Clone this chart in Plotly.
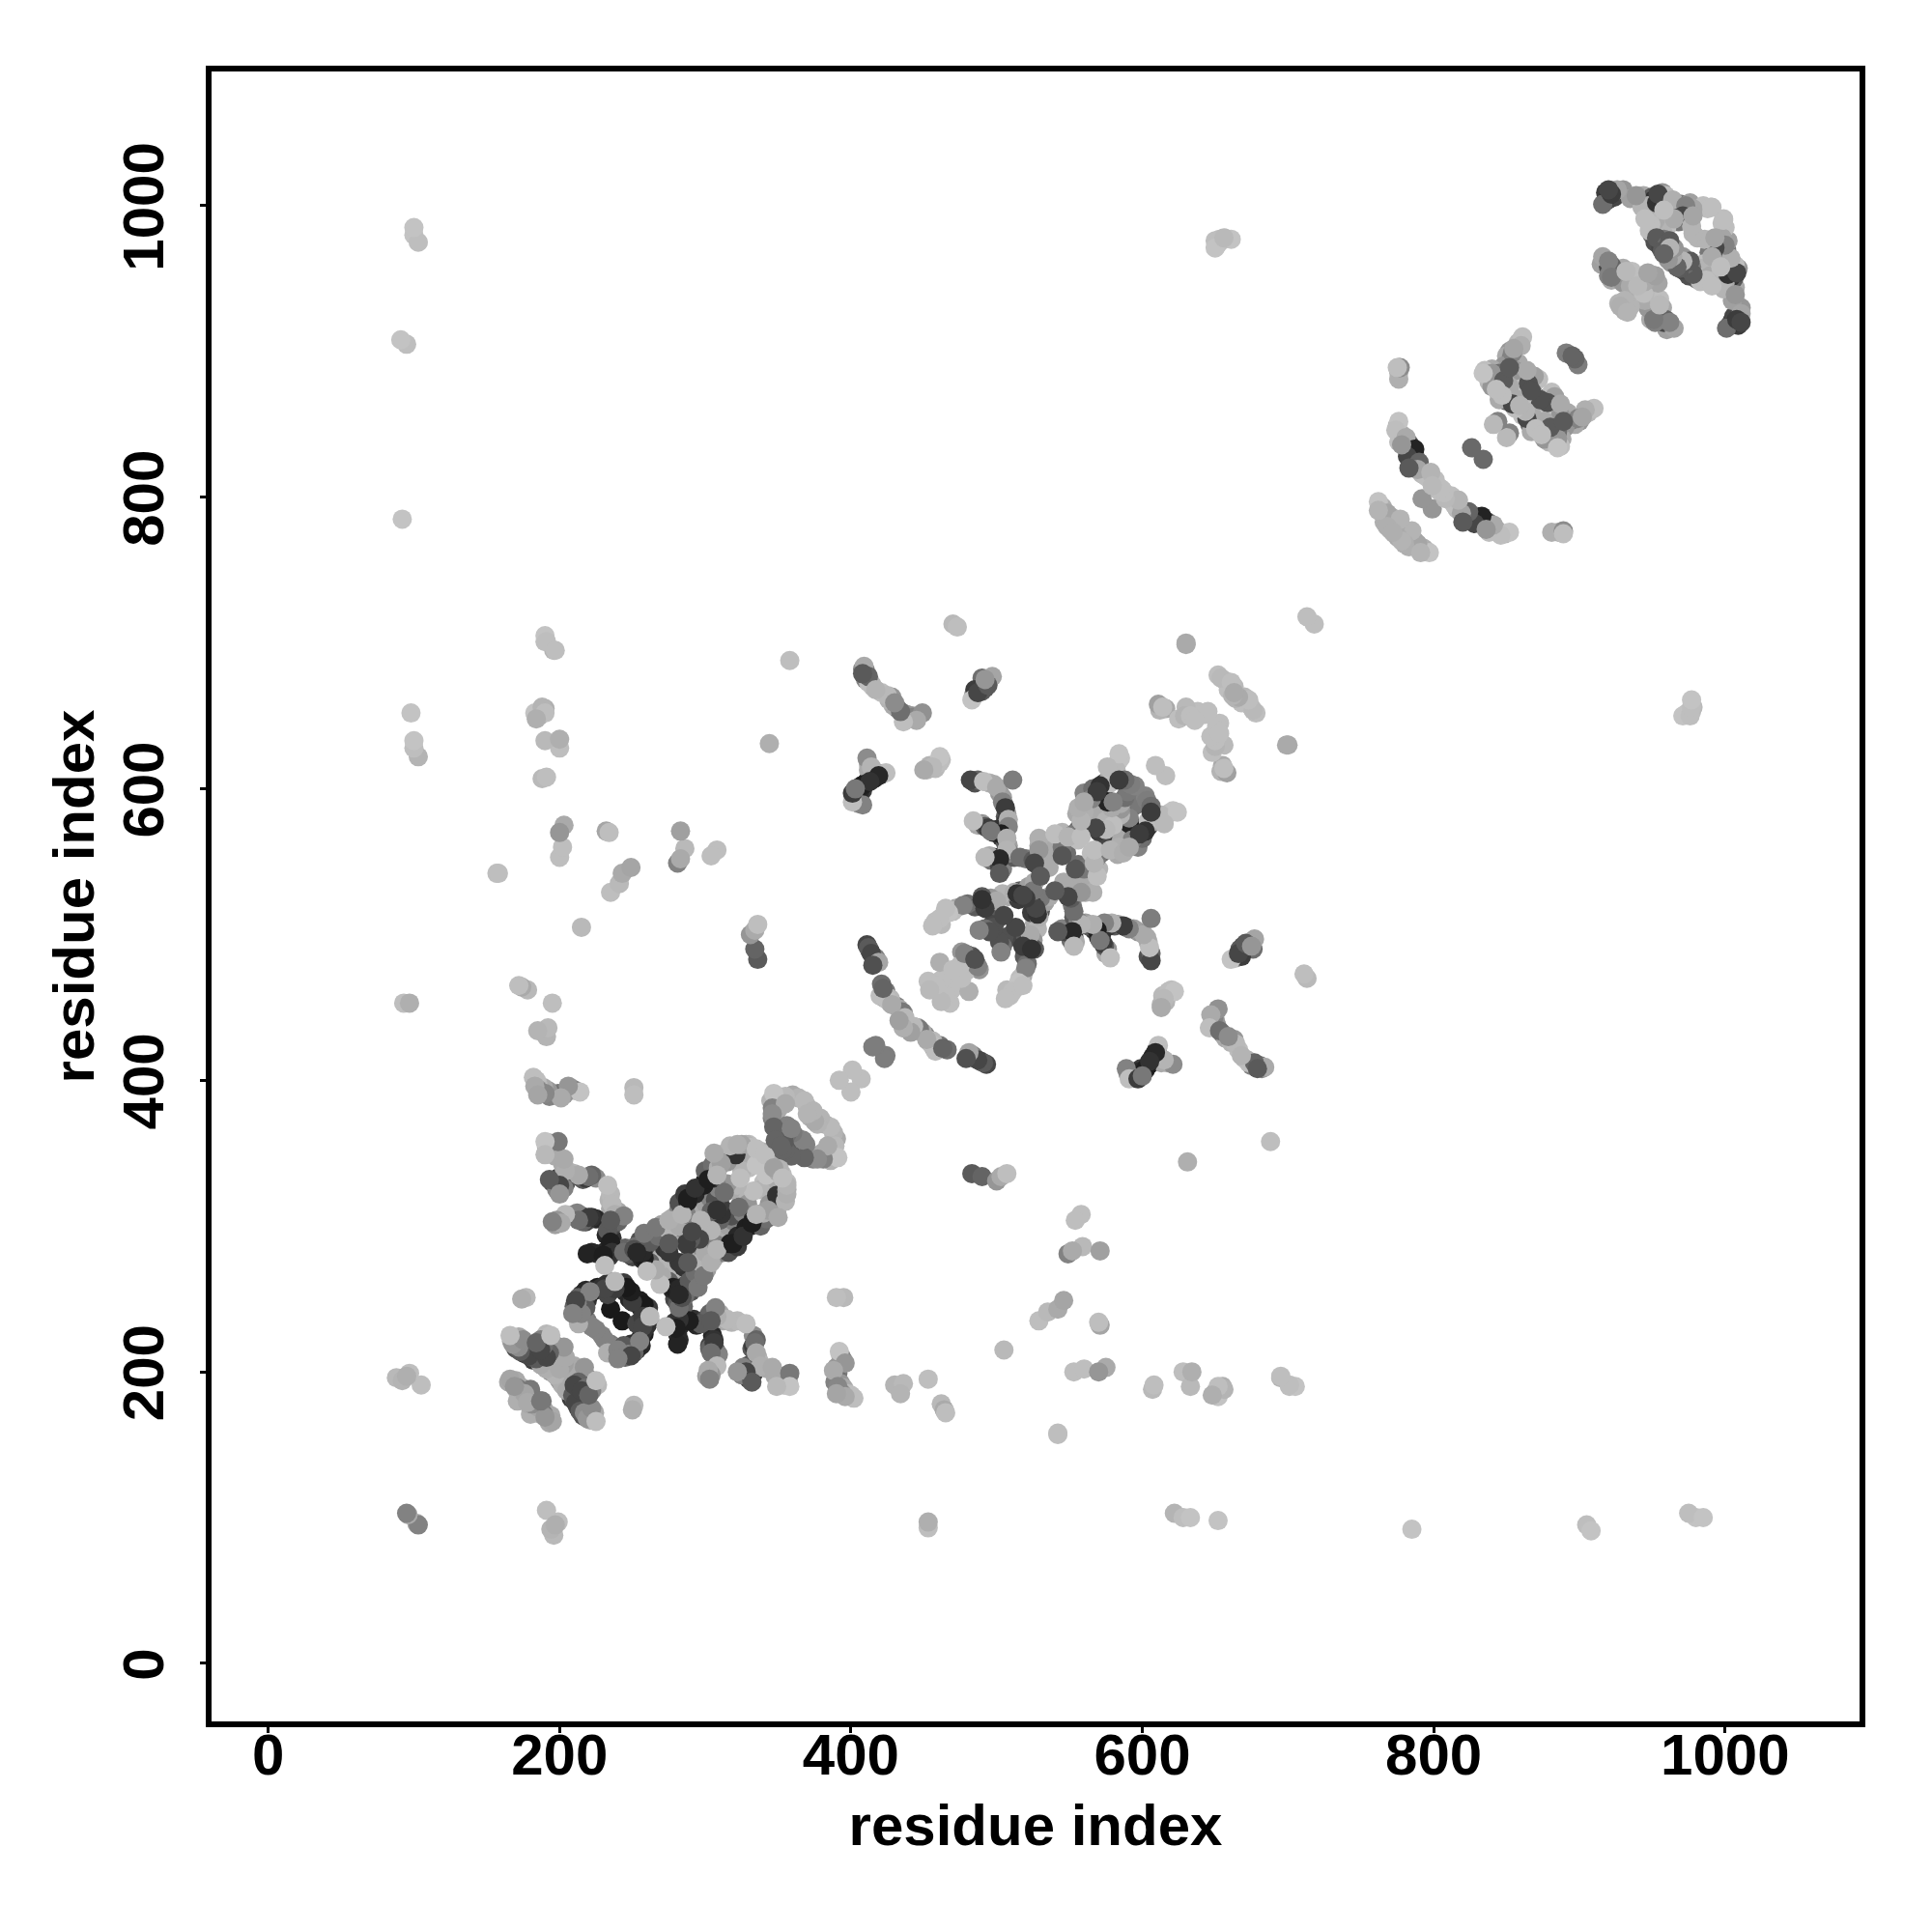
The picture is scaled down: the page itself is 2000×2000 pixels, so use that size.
import plotly.graph_objects as go

tick_values = [0, 200, 400, 600, 800, 1000]
axis_title = "residue index"

# contacts as (residue a, residue b, grey level); the map is symmetric
far_contacts = [
    (980,100,195),(975,103,190),(985,100,195),(905,95,190),(908,91,195),(785,92,195),(652,98,195),
    (622,103,180),(628,100,190),(633,100,195),(453,93,190),(453,97,175),
    (191,105,190),(196,88,185),(194,92,180),(199,97,190),(197,95,175),(102,96,170),(103,95,130),
    (542,157,190),(652,185,190),(655,190,175),(650,186,185),(652,183,195),(656,188,180),
    (695,196,180),(701,190,190),(705,190,195),(607,188,185),(608,191,190),(628,200,190),(633,190,185),(634,200,175),
    (553,200,190),(560,202,190),(575,203,170),(570,200,150),(505,215,185),
    (462,178,185),(464,174,170),(465,172,190),(453,195,190),(430,191,180),(436,192,185),(434,185,180),
    (542,158,190),(558,308,190),(554,304,190),(549,281,130),(559,286,185),(571,283,160),(552,283,170),
    (529,235,190),(535,241,185),(542,243,170),(546,249,165),(571,232,165),(570,234,190),
    (483,336,90),(490,334,100),(500,331,150),(503,334,170),(507,336,190),
    (631,344,175),(688,358,190),(700,630,170),(713,470,185),(711,473,190),
    (977,653,190),(974,652,190),(971,650,195),(978,656,185),(650,976,190),(656,977,190),(661,977,195),
    (718,713,190),(701,191,190),(695,197,190),(652,190,190),(648,184,175),
]

x_arm_contacts = [
    (297,233,90),(322,235,185),(315,236,185),(328,233,190),(308,238,175),(307,244,130),(304,235,90),
    (289,235,30),(282,236,50),(281,219,35),(280,230,30),(282,244,110),(284,251,80),(277,257,40),(273,231,190),
    (306,220,60),(304,213,110),(308,204,185),(304,198,150),(302,201,170),(303,195,130),
    (334,220,110),(335,213,170),(338,204,175),(328,200,70),(332,193,90),(322,200,150),(346,203,170),
    (358,199,120),(358,190,195),(349,190,185),
    (392,214,195),(396,206,150),(388,201,170),(391,190,135),(402,182,190),(396,183,170),(390,185,165),
    (395,251,185),(390,251,190),(251,177,185),(250,174,175),
]

ring_contacts = [
    (261,239,185),(255,249,30),(254,221,40),(251,218,60),(244,218,90),(238,212,190),(231,222,130),
    (243,235,25),(253,233,70),(251,213,100),(247,212,130),(233,213,175),(240,215,130),(258,229,50),
    (261,244,60),(258,246,25),(257,238,60),(257,231,70),(255,221,130),(249,211,70),(240,209,130),(262,238,185),
]

low_block_contacts = [
    (198,197,180),(202,191,175),(205,187,170),(209,184,90),(211,179,70),(214,173,90),(217,172,140),(219,168,150),
    (222,175,140),(225,166,190),(202,200,170),(210,204,170),(217,203,150),(213,193,100),(210,191,70),(218,189,110),
    (222,187,130),(215,187,70),(220,184,100),(225,194,190),
    (195,166,165),(188,180,120),(187,171,180),(180,171,175),(185,176,165),(190,169,150),(179,178,170),(180,187,120),
]

helix_band_contacts = [
    (278,258,30),(282,257,40),(289,262,90),(293,268,110),(297,275,180),(300,282,170),(308,287,130),(317,288,30),
    (322,293,40),(328,299,30),(333,306,50),(340,309,175),(349,310,170),(344,315,150),(349,321,50),(355,317,180),
    (356,325,165),(353,335,190),(349,341,190),(340,347,160),(333,353,190),(333,324,190),(323,313,110),(311,308,50),
    (304,297,180),(296,291,70),(282,275,55),(269,260,190),(288,275,90),(282,253,40),(295,258,120),(299,266,120),
    (304,275,175),(308,284,180),(319,288,30),(326,293,50),(332,302,30),(343,311,160),(356,322,175),(350,306,170),(335,308,180),
    (386,368,185),(389,355,185),(391,347,195),(379,374,180),(381,346,130),(384,355,170),(377,346,140),(368,347,100),
    (359,348,100),(367,359,130),(377,370,180),(355,352,100),(407,401,190),(400,392,190),(424,417,125),
]

central_contacts = [
    (606,482,70),(605,491,190),(601,500,170),(591,504,130),(587,506,60),(579,508,175),(574,508,130),(569,503,30),
    (573,494,60),(578,484,190),(571,496,120),(566,507,175),(558,507,180),(552,502,40),(553,492,185),(542,502,90),
    (553,516,110),(551,525,90),(566,529,175),(558,529,150),(549,526,70),(606,511,125),
    (529,512,175),(523,500,170),(520,477,130),(518,492,60),(524,490,50),(513,505,70),(502,495,80),(503,488,130),
    (515,467,195),(511,461,190),(506,456,190),(518,465,190),(528,514,50),(525,520,60),(527,518,70),(540,530,90),
    (554,545,85),(569,553,120),(573,568,70),(569,540,190),(567,549,180),(567,558,190),(587,579,170),(591,576,35),
    (600,572,30),(604,578,190),(613,582,185),(624,584,195),(593,565,130),(584,560,175),(578,558,180),(587,556,175),
    (591,580,130),(603,592,125),(606,588,110),(602,571,50),(598,569,60),(591,560,170),(615,576,185),(606,584,60),
    (616,609,190),(699,630,170),(658,611,160),(656,614,190),(650,629,180),(650,633,190),(653,645,190),(647,636,190),
    (676,654,185),(673,661,190),(666,663,170),
    (677,497,165),(673,491,100),(668,485,60),(661,483,195),(666,487,70),(671,494,90),(675,492,150),
    (618,461,190),(622,461,195),(613,452,180),(615,456,185),(613,450,170),
    (652,449,145),(647,445,170),(646,436,190),(653,434,110),(664,425,185),(659,430,140),(673,412,190),(684,409,170),
    (677,412,100),(679,408,90),(668,417,180),
    (611,424,190),(621,411,140),(615,414,180),(609,419,40),(603,409,30),(600,405,30),(589,408,130),(591,401,190),
    (597,401,60),(605,413,50),(600,403,120),
    (491,412,90),(487,414,70),(481,419,165),(479,415,80),(466,421,110),(455,425,190),(447,435,120),(443,437,185),
    (436,436,175),(458,420,190),(452,428,170),(463,422,100),(441,433,160),(423,415,125),
    (487,478,130),(483,485,80),(481,461,175),(476,470,190),(465,458,190),(462,454,185),
]

c_term_contacts = [
    (1011,926,165),(1007,920,50),(1001,916,110),(1008,922,60),(1011,920,70),(1007,939,150),(1007,959,190),(1002,953,50),
    (1008,954,70),(1004,964,175),(1000,973,130),(999,991,190),(990,999,190),(993,971,70),(991,965,170),(987,949,190),
    (978,953,90),(973,960,110),(969,957,90),(971,965,150),(976,962,90),(971,962,180),(967,958,100),(981,978,180),
    (986,977,180),(993,978,165),(997,958,190),(991,945,190),
    (965,916,165),(959,922,100),(955,936,190),(952,920,130),(962,920,130),(951,922,120),(945,940,185),(954,947,165),
    (955,932,185),(931,928,175),(927,933,180),
    (910,861,190),(904,860,175),(899,854,130),(902,855,165),(885,840,150),(885,834,195),(887,856,150),(883,869,160),
    (878,865,80),(876,852,170),(880,848,90),(867,858,170),(864,854,70),(870,847,190),(874,843,190),(887,864,170),
    (873,867,80),(863,859,180),(889,852,90),(899,891,125),(897,895,100),(852,844,130),(850,841,185),(834,826,105),
    (799,792,150),(886,776,155),(881,776,175),(889,776,155),(889,777,140),(889,775,190),
    (852,776,195),(846,774,190),(841,781,170),(833,787,35),(828,782,70),(836,778,150),(824,790,100),(819,789,165),
    (812,801,190),(806,805,190),(817,798,180),(820,783,90),(808,799,185),
    (797,762,195),(789,768,165),(785,777,180),(780,768,175),(776,772,175),(791,762,180),
]

# further contacts along the same strands; these lie underneath
under_low = [
    (200,194,150),(204,189,120),(207,186,130),(208,182,60),(210,181,80),(212,177,100),(213,175,60),(215,174,120),
    (216,170,80),(218,170,110),(220,170,130),(221,167,170),(223,168,160),(224,172,170),(220,176,120),(218,178,90),
    (206,191,150),(212,185,60),(214,183,50),(216,181,80),
    (205,203,160),(207,201,140),(212,200,130),(214,198,100),(216,196,120),(219,196,140),(221,192,170),(223,190,150),
    (216,191,80),(211,195,110),(208,197,150),(224,190,180),(226,191,185),
    (182,175,160),(184,172,170),(186,178,140),(188,175,150),(190,173,170),(192,168,180),(194,170,170),(183,180,130),
    (181,183,110),(178,181,140),(193,165,170),(189,171,120),
]
under_x_arm = [
    (286,238,70),(292,236,50),(294,232,40),(300,236,70),(303,240,100),(310,240,170),(312,235,170),(318,234,180),
    (283,240,90),(281,226,50),(282,222,40),(283,232,40),(279,234,60),(279,250,70),(281,247,90),(283,255,50),(280,255,60),(285,245,100),
    (305,225,40),(303,218,70),(306,222,50),(307,215,90),(308,210,150),(307,207,170),(305,203,180),(301,197,160),(303,216,100),(309,212,130),
    (333,225,140),(335,222,100),(332,216,90),(333,218,60),(336,210,170),(337,207,180),(335,207,150),(331,205,60),(329,204,90),
    (331,197,100),(333,199,50),(330,195,70),(326,203,130),(340,203,175),(343,202,170),(352,197,150),(355,197,110),(354,191,180),
    (351,194,160),(348,197,170),(357,193,150),(325,198,130),
    (393,211,170),(394,209,130),(392,205,170),(390,203,150),(391,199,120),(390,196,110),(389,193,130),(393,192,150),(395,189,170),
    (398,185,185),(400,184,190),(394,185,150),(392,187,130),
]
under_ring = [
    (260,240,50),(259,235,40),(258,226,30),(256,224,40),(252,219,30),(249,219,50),(246,216,60),(243,214,120),(236,213,160),
    (235,219,120),(237,217,130),(229,225,130),(241,211,90),(245,210,100),(253,215,60),(256,218,40),(259,242,50),(255,245,30),
    (253,247,50),(250,248,40),(248,250,60),(262,235,120),(260,232,50),
]
under_band = [
    (284,260,60),(286,260,70),(291,265,100),(295,272,160),(298,278,170),(303,285,150),(305,286,110),(311,287,90),(314,288,50),
    (320,290,30),(324,296,40),(326,297,30),(330,303,40),(331,300,30),(335,304,40),(337,308,100),(343,309,160),(346,313,160),
    (347,318,100),(351,322,130),(353,325,160),(352,328,180),(354,331,190),(345,344,175),(337,350,170),(339,351,180),(330,356,190),(328,356,180),
    (286,270,70),(290,282,150),(294,280,170),(298,285,140),(302,291,120),(306,293,180),(312,296,170),(316,300,160),(320,303,130),
    (315,310,60),(318,307,80),(325,318,170),(328,322,180),(329,315,150),(326,309,130),(340,330,190),(345,333,190),(345,325,170),
    (338,325,180),(342,335,195),(310,304,100),(291,290,90),(288,287,60),(279,270,170),(276,268,180),(272,263,160),(285,272,50),
    (275,262,100),(270,266,170),(290,255,80),(286,252,110),(301,270,160),(306,278,170),(312,282,130),(316,282,80),(322,286,60),
    (338,300,100),(342,305,110),
    (362,350,100),(365,352,90),(371,349,70),(374,346,130),(380,350,170),(383,347,190),(386,345,180),(388,349,170),(390,360,170),
    (388,364,180),(382,370,175),(375,372,180),(372,375,170),(364,360,120),(363,356,110),(369,356,130),
    (358,354,90),(352,353,100),
]
under_central = [
    (604,485,80),(606,487,100),(604,495,180),(603,498,170),(597,502,150),(594,504,160),(589,505,80),(583,507,150),(581,506,90),
    (577,506,60),(571,505,60),(572,500,50),(570,498,40),(576,490,150),(575,487,170),(574,492,90),(567,503,50),(563,506,90),
    (561,508,160),(555,505,60),(553,498,40),(551,496,110),(554,495,170),(550,503,60),(547,502,70),(545,504,130),(552,520,120),
    (553,512,90),(556,509,130),(553,528,100),(561,529,170),(549,530,170),
    (526,508,170),(528,504,180),(525,496,150),(522,493,100),(520,490,60),(519,485,90),(521,480,110),(518,472,170),(516,470,190),
    (514,464,190),(509,458,190),(507,462,185),(516,498,50),(510,500,90),(507,497,70),(505,498,80),(504,492,110),(526,490,90),
    (530,516,90),(533,522,160),(536,526,170),(530,525,120),(524,515,60),
    (556,548,110),(558,536,170),(546,536,170),(560,545,120),(565,556,190),(570,545,180),(572,556,100),(575,565,70),(571,570,60),
    (583,555,170),(581,559,180),(585,563,165),(590,565,140),(595,570,40),(594,572,30),(597,573,40),(589,577,60),(584,580,170),
    (582,585,180),(586,585,150),(590,585,170),(594,588,110),(598,590,120),(602,595,130),(604,574,50),(607,577,170),
    (610,580,190),(618,583,190),(621,585,195),(597,560,130),(600,566,110),(588,570,170),(580,569,170),(578,575,180),(575,580,190),(572,575,185),
    (655,616,170),(654,612,180),(656,630,185),(648,625,190),(651,641,190),(643,651,190),(640,652,190),(638,653,190),(674,657,190),
    (670,663,185),(668,659,190),(664,662,180),(678,652,190),
    (675,495,130),(670,489,60),(669,492,70),(664,484,160),(667,490,90),(676,490,110),
    (650,442,160),(648,440,185),(651,438,150),(649,443,130),(655,432,130),(657,429,170),(661,426,180),(663,428,150),(666,421,190),
    (670,415,190),(672,414,180),(675,410,130),(681,410,120),(682,408,130),(678,410,70),
    (610,421,60),(607,416,30),(605,411,40),(602,407,30),(599,408,60),(598,406,40),(595,403,70),(592,404,130),(593,402,170),(590,405,150),
    (611,417,120),(617,412,170),(613,412,170),
    (493,411,70),(489,413,60),(484,417,130),(482,416,90),
    (461,424,120),(458,424,170),(451,431,130),(449,433,170),(446,436,140),(453,427,180),(457,422,170),(439,435,160),(456,427,185),(444,434,180),
    (488,476,150),(486,480,100),(484,482,70),(479,475,190),(473,466,190),(469,462,190),(468,453,190),
    (620,462,190),(616,454,180),(614,458,185),
]
under_c_term = [
    (1009,925,120),(1005,921,50),(1003,918,80),(1009,918,60),(1006,924,70),(1011,930,150),(1005,935,160),(1007,944,170),(1006,950,90),
    (1004,951,50),(1009,957,150),(1003,957,60),(1005,961,170),(1002,966,140),(1001,970,120),(1002,976,160),(1000,985,190),(998,988,190),
    (993,966,80),(989,968,120),(985,960,190),(983,957,180),(977,958,120),(980,950,110),(975,952,80),(983,948,190),(971,956,70),(968,960,100),
    (965,964,170),(963,961,150),(990,975,120),(996,975,80),(998,978,165),(990,952,170),(995,950,185),(1000,947,170),(999,943,180),
    (962,917,120),(960,915,160),(958,920,70),(956,925,120),(957,930,170),(950,926,110),(949,922,170),(947,930,150),(942,937,180),(940,944,190),
    (948,945,170),(945,935,170),(952,952,160),(935,931,180),
    (908,860,190),(906,858,185),(900,852,150),(897,850,170),(895,853,130),(890,848,150),(888,840,170),(887,835,190),(885,845,110),(882,850,130),
    (885,862,130),(880,860,110),(883,866,90),(877,868,110),(875,860,190),(872,850,80),(870,855,70),(866,850,100),(861,856,190),(867,845,170),
    (879,838,185),(876,840,150),(874,865,130),(870,862,190),(892,858,170),(881,872,190),
    (849,775,180),(843,778,170),(839,780,120),(837,783,100),(835,784,50),(831,785,60),(829,787,90),(826,788,170),(821,790,130),(816,792,185),
    (814,795,190),(810,799,190),(805,803,190),(803,807,190),(838,776,190),
    (794,764,190),(787,770,170),(783,772,175),(781,774,170),(778,771,180),(773,775,170),(770,778,180),(783,766,175),(793,765,175),
]

all_contacts = (under_low + under_x_arm + under_ring + under_band + under_central + under_c_term
                + far_contacts + low_block_contacts + x_arm_contacts + ring_contacts
                + helix_band_contacts + central_contacts + c_term_contacts)

res_a = [c[0] for c in all_contacts]
res_b = [c[1] for c in all_contacts]
grey = [c[2] for c in all_contacts]

x_vals = res_a + res_b
y_vals = res_b + res_a
colors = [f"rgb({g},{g},{g})" for g in grey + grey]

fig = go.Figure(go.Scatter(
    x=x_vals, y=y_vals, mode="markers",
    marker=dict(size=20, color=colors, line=dict(width=0)),
    showlegend=False, hoverinfo="skip",
))

font = dict(family="Liberation Sans, Arial, sans-serif", size=60, color="black", weight="bold")
axis_common = dict(
    tickmode="array", tickvals=tick_values, ticktext=[str(t) for t in tick_values],
    showgrid=False, zeroline=False, showline=True, mirror=True, linecolor="black", linewidth=6,
    ticks="outside", ticklen=6, tickwidth=3, tickcolor="black", tickfont=font,
)
fig.update_xaxes(range=[-38.9, 1092.3], ticklabelstandoff=-29, title=dict(text=axis_title, font=font, standoff=21), **axis_common)
fig.update_yaxes(range=[-39.8, 1092.1], tickangle=-90, ticklabelstandoff=14, ticklabelshift=10,
                 title=dict(text=axis_title, font=font, standoff=0), **axis_common)

fig.update_layout(
    width=2000, height=2000, autosize=False,
    margin=dict(l=211, r=83, t=66, b=226, pad=0),
    paper_bgcolor="white", plot_bgcolor="white",
)
fig.write_html("out.html")
